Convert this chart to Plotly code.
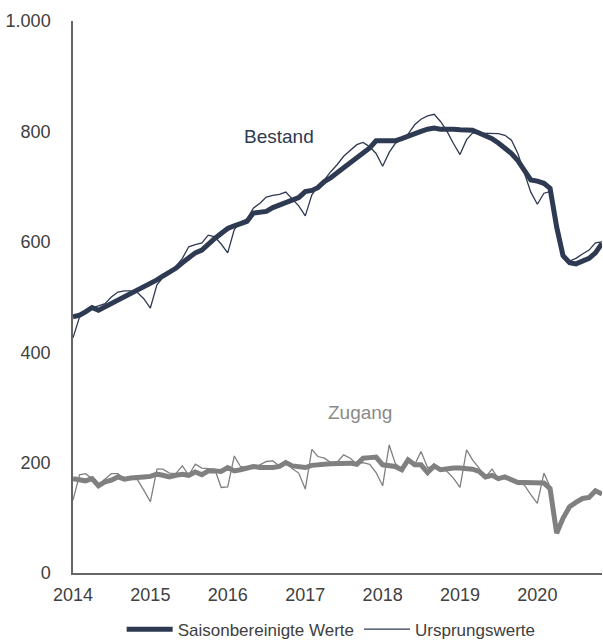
import pandas as pd
import plotly.graph_objects as go

# Monthly data, Jan 2014 - Nov 2020 (thousands)
months = pd.date_range("2014-01-01", periods=83, freq="MS")

bestand_sa = [464, 467, 473, 481, 476, 482, 487, 494, 500, 506, 513, 519,
              524, 531, 538, 545, 552, 562, 572, 580, 585, 596, 606, 615,
              624, 629, 633, 637, 652, 654, 655, 662, 667, 671, 675, 680,
              691, 693, 698, 709, 716, 724, 734, 743, 752, 761, 770, 783,
              783, 783, 783, 787, 792, 797, 800, 804, 806, 804, 805, 804,
              803, 803, 802, 797, 792, 787, 779, 770, 760, 747, 730, 712,
              710, 706, 697, 627, 575, 562, 560, 565, 570, 580, 597]

bestand_orig = [426, 464, 472, 480, 484, 488, 500, 509, 511, 511, 508, 497,
                480, 522, 535, 545, 555, 570, 591, 595, 598, 612, 609, 596,
                580, 622, 636, 641, 661, 670, 681, 684, 686, 690, 678, 665,
                647, 685, 700, 712, 727, 740, 755, 766, 776, 780, 772, 760,
                737, 762, 778, 785, 795, 812, 822, 828, 831, 818, 800, 778,
                758, 785, 797, 797, 797, 797, 796, 793, 784, 760, 725, 690,
                668, 688, 691, 626, 570, 565, 570, 578, 585, 598, 600]

zugang_sa = [171, 170, 167, 171, 158, 165, 168, 174, 170, 172, 174, 174,
             175, 179, 177, 174, 177, 179, 177, 183, 178, 185, 185, 184,
             191, 185, 187, 189, 193, 191, 190, 191, 193, 200, 194, 193,
             191, 195, 197, 197, 198, 199, 200, 199, 197, 208, 209, 210,
             196, 195, 193, 187, 205, 196, 196, 182, 194, 187, 189, 190,
             190, 190, 188, 184, 174, 177, 171, 174, 170, 164, 164, 164,
             164, 163, 153, 72, 99, 120, 128, 135, 137, 149, 143]

zugang_orig = [132, 178, 180, 171, 160, 170, 180, 180, 170, 170, 169, 150,
               129, 188, 188, 181, 180, 194, 177, 197, 190, 189, 188, 155,
               156, 212, 193, 191, 190, 196, 202, 203, 194, 203, 189, 181,
               152, 224, 211, 208, 200, 201, 214, 208, 197, 200, 197, 182,
               158, 232, 199, 187, 205, 196, 220, 191, 194, 190, 184, 172,
               155, 223, 205, 190, 173, 188, 171, 174, 170, 164, 159, 142,
               126, 181, 156, 75, 100, 118, 128, 135, 138, 149, 143]

y_tick_vals = [0, 200, 400, 600, 800, 1000]
y_tick_text = ["0", "200", "400", "600", "800", "1.000"]
x_tick_vals = pd.date_range("2014-01-01", periods=7, freq="YS")
x_tick_text = ["2014", "2015", "2016", "2017", "2018", "2019", "2020"]

NAVY = "#2e3a52"
GRAY = "#808080"
FONT = "Liberation Sans, Arial, sans-serif"

fig = go.Figure()
fig.add_trace(go.Scatter(x=months, y=bestand_orig, mode="lines",
                         line=dict(color=NAVY, width=1.3),
                         name="Ursprungswerte", legendrank=2))
fig.add_trace(go.Scatter(x=months, y=bestand_sa, mode="lines",
                         line=dict(color=NAVY, width=5),
                         name="Saisonbereinigte Werte", legendrank=1))
fig.add_trace(go.Scatter(x=months, y=zugang_orig, mode="lines",
                         line=dict(color=GRAY, width=1.3),
                         showlegend=False))
fig.add_trace(go.Scatter(x=months, y=zugang_sa, mode="lines",
                         line=dict(color=GRAY, width=5),
                         showlegend=False))

fig.add_annotation(x=pd.Timestamp("2016-09-01"), y=791, text="Bestand",
                   showarrow=False, font=dict(size=19, color=NAVY, family=FONT))
fig.add_annotation(x=pd.Timestamp("2017-09-15"), y=290, text="Zugang",
                   showarrow=False, font=dict(size=19, color="#8a8a8a", family=FONT))

fig.update_layout(
    width=603, height=641,
    margin=dict(l=73, r=1, t=21, b=68, autoexpand=False),
    paper_bgcolor="white", plot_bgcolor="white",
    font=dict(family=FONT, size=18, color="#404040"),
    showlegend=True,
    legend=dict(orientation="h", x=0.488, xanchor="center", y=-0.07, yanchor="top",
                font=dict(size=17, color="#404040"), itemwidth=46,
                traceorder="normal"),
)
fig.update_xaxes(range=[months[0], months[-1]], showgrid=False, zeroline=False,
                 showline=True, linecolor="#666666", linewidth=1.5,
                 tickmode="array", tickvals=x_tick_vals, ticktext=x_tick_text,
                 ticks="", ticklabelstandoff=5)
fig.update_yaxes(range=[0, 1000], showgrid=False, zeroline=False,
                 showline=True, linecolor="#666666", linewidth=1.5,
                 tickmode="array", tickvals=y_tick_vals, ticktext=y_tick_text,
                 ticks="", ticklabelstandoff=17)

fig.write_html("out.html", config={"displayModeBar": False},
               post_script="document.body.style.margin='0';document.body.style.overflow='hidden';")
